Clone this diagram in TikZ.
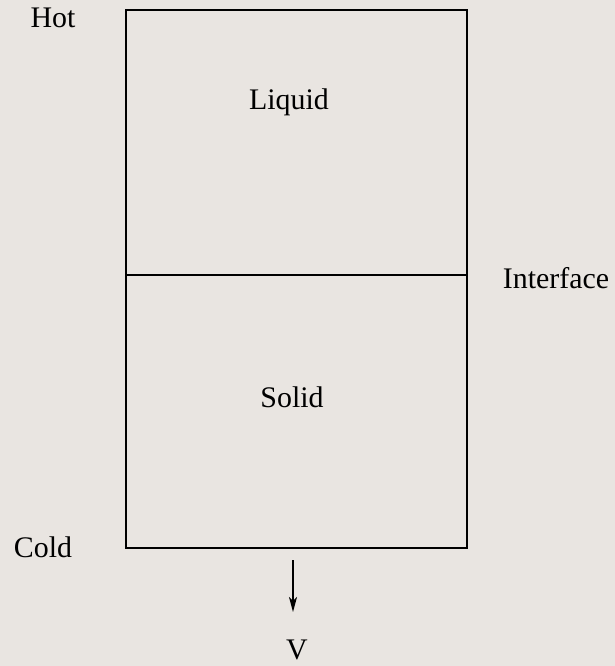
\documentclass[tikz,border=0pt]{standalone}
\usepackage{fontspec}
\setmainfont{Liberation Serif}
\usetikzlibrary{arrows.meta}
\definecolor{bg}{RGB}{233,229,225}
\begin{document}
\begin{tikzpicture}[x=1bp,y=-1bp,
  lbl/.style={font=\fontsize{30}{34}\selectfont, inner sep=0pt},
  edge/.style={line width=1.4bp, black}]
\fill[bg] (0,0) rectangle (615,666);
\useasboundingbox (0,0) rectangle (615,666);
\coordinate (tl) at (126,10);
\coordinate (br) at (467,548);
\draw[edge] (tl) rectangle (br);
\coordinate (il) at (126,275);
\coordinate (ir) at (467,275);
\draw[edge] (il) -- (ir);
\node[lbl] (hot) at (53,18) {Hot};
\node[lbl] (cold) at (43,547) {Cold};
\node[lbl] (liquid) at (289,102) {Liquid};
\node[lbl] (solid) at (292,397) {Solid};
\node[lbl] (interface) at (556,278) {Interface};
\coordinate (a1) at (293,560);
\coordinate (a2) at (293,612);
\draw[line width=1.2bp, -{Stealth[length=15bp,width=8bp,inset=4bp]}] (a1) -- (a2);
\node[lbl] (v) at (297,650) {V};
\end{tikzpicture}
\end{document}
